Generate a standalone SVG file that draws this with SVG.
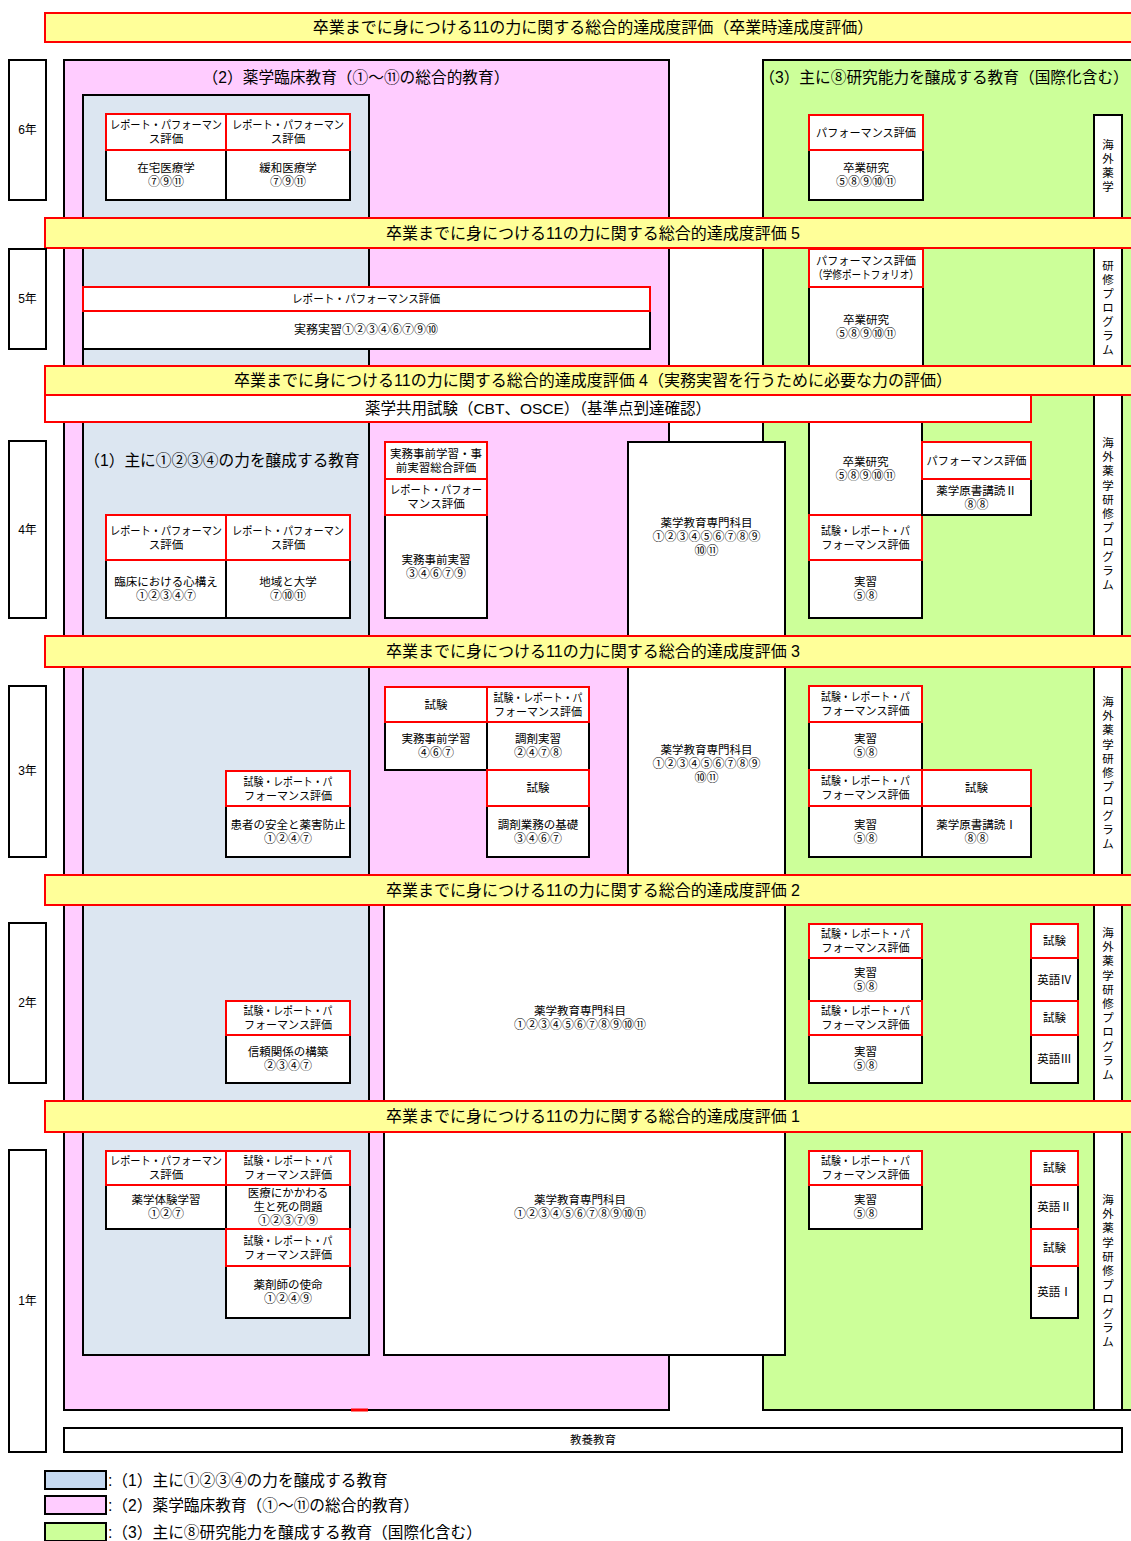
<svg xmlns="http://www.w3.org/2000/svg" width="1131" height="1541" viewBox="0 0 1131 1541">
<style>
text{font-family:"Liberation Sans","Noto Sans CJK JP",sans-serif;fill:#000;text-anchor:middle;dominant-baseline:central}
.s{font-size:11.5px}
.c{font-size:12px}
.m{font-size:12px}
.l{font-size:15.7px}
.b{font-size:16px}
.v{font-size:11.5px}
.st{text-anchor:start}
.band{fill:#FFFF99;stroke:#FF0000;stroke-width:2}
.rb{fill:#fff;stroke:#FF0000;stroke-width:2}
.wb{fill:#fff;stroke:#000;stroke-width:2}
.pink{fill:#FFCCFF;stroke:#000;stroke-width:2}
.blue{fill:#DCE6F1;stroke:#000;stroke-width:2}
.green{fill:#CCFF99;stroke:#000;stroke-width:2}
</style>
<rect width="1131" height="1541" fill="#fff"/>

<g id="region-pink"><rect class="pink" x="64" y="60" width="605" height="1350"/><text class="l" x="356" y="77">（2）薬学臨床教育（①～⑪の総合的教育）</text></g>
<g id="region-blue"><rect class="blue" x="83" y="95" width="286" height="1260"/><text class="l" x="222" y="460">（1）主に①②③④の力を醸成する教育</text></g>
<g id="region-green"><rect class="green" x="763" y="60" width="390" height="1350"/><text class="l" x="944" y="77">（3）主に⑧研究能力を醸成する教育（国際化含む）</text></g>
<line x1="351" y1="1410" x2="368" y2="1410" stroke="#FF0000" stroke-width="3"/>

<g id="senmon-y3-4"><rect class="wb" x="628" y="442" width="157" height="433"/>
<text class="s" x="706.5" y="523">薬学教育専門科目</text><text class="c" x="706.5" y="537">①②③④⑤⑥⑦⑧⑨</text><text class="c" x="706.5" y="551">⑩⑪</text>
<text class="s" x="706.5" y="750">薬学教育専門科目</text><text class="c" x="706.5" y="764">①②③④⑤⑥⑦⑧⑨</text><text class="c" x="706.5" y="778">⑩⑪</text></g>
<g id="senmon-y1-2"><rect class="wb" x="384" y="875" width="401" height="480"/>
<text class="s" x="580" y="1011">薬学教育専門科目</text><text class="c" x="580" y="1025">①②③④⑤⑥⑦⑧⑨⑩⑪</text>
<text class="s" x="580" y="1200">薬学教育専門科目</text><text class="c" x="580" y="1214">①②③④⑤⑥⑦⑧⑨⑩⑪</text></g>

<g id="overseas"><rect class="wb" x="1094" y="115" width="28" height="1295"/>
<text class="v" x="1108" y="145"><tspan x="1108" y="145">海</tspan><tspan x="1108" dy="14">外</tspan><tspan x="1108" dy="14">薬</tspan><tspan x="1108" dy="14">学</tspan></text>
<text class="v" x="1108" y="266"><tspan x="1108" y="266">研</tspan><tspan x="1108" dy="14">修</tspan><tspan x="1108" dy="14">プ</tspan><tspan x="1108" dy="14">ロ</tspan><tspan x="1108" dy="14">グ</tspan><tspan x="1108" dy="14">ラ</tspan><tspan x="1108" dy="14">ム</tspan></text>
<text class="v" x="1108" y="443"><tspan x="1108" y="443">海</tspan><tspan x="1108" dy="14.2">外</tspan><tspan x="1108" dy="14.2">薬</tspan><tspan x="1108" dy="14.2">学</tspan><tspan x="1108" dy="14.2">研</tspan><tspan x="1108" dy="14.2">修</tspan><tspan x="1108" dy="14.2">プ</tspan><tspan x="1108" dy="14.2">ロ</tspan><tspan x="1108" dy="14.2">グ</tspan><tspan x="1108" dy="14.2">ラ</tspan><tspan x="1108" dy="14.2">ム</tspan></text>
<text class="v" x="1108" y="702"><tspan x="1108" y="702">海</tspan><tspan x="1108" dy="14.2">外</tspan><tspan x="1108" dy="14.2">薬</tspan><tspan x="1108" dy="14.2">学</tspan><tspan x="1108" dy="14.2">研</tspan><tspan x="1108" dy="14.2">修</tspan><tspan x="1108" dy="14.2">プ</tspan><tspan x="1108" dy="14.2">ロ</tspan><tspan x="1108" dy="14.2">グ</tspan><tspan x="1108" dy="14.2">ラ</tspan><tspan x="1108" dy="14.2">ム</tspan></text>
<text class="v" x="1108" y="933"><tspan x="1108" y="933">海</tspan><tspan x="1108" dy="14.2">外</tspan><tspan x="1108" dy="14.2">薬</tspan><tspan x="1108" dy="14.2">学</tspan><tspan x="1108" dy="14.2">研</tspan><tspan x="1108" dy="14.2">修</tspan><tspan x="1108" dy="14.2">プ</tspan><tspan x="1108" dy="14.2">ロ</tspan><tspan x="1108" dy="14.2">グ</tspan><tspan x="1108" dy="14.2">ラ</tspan><tspan x="1108" dy="14.2">ム</tspan></text>
<text class="v" x="1108" y="1200"><tspan x="1108" y="1200">海</tspan><tspan x="1108" dy="14.2">外</tspan><tspan x="1108" dy="14.2">薬</tspan><tspan x="1108" dy="14.2">学</tspan><tspan x="1108" dy="14.2">研</tspan><tspan x="1108" dy="14.2">修</tspan><tspan x="1108" dy="14.2">プ</tspan><tspan x="1108" dy="14.2">ロ</tspan><tspan x="1108" dy="14.2">グ</tspan><tspan x="1108" dy="14.2">ラ</tspan><tspan x="1108" dy="14.2">ム</tspan></text>
</g>

<!-- 6年 -->
<g id="y6-zaitaku"><rect class="wb" x="106" y="150" width="120" height="50"/><rect class="rb" x="106" y="114" width="120" height="36"/>
<text class="s" x="166" y="125" textLength="112" lengthAdjust="spacingAndGlyphs">レポート・パフォーマン</text><text class="s" x="166" y="139">ス評価</text><text class="s" x="166" y="168">在宅医療学</text><text class="c" x="166" y="182">⑦⑨⑪</text></g>
<g id="y6-kanwa"><rect class="wb" x="226" y="150" width="124" height="50"/><rect class="rb" x="226" y="114" width="124" height="36"/>
<text class="s" x="288" y="125" textLength="112" lengthAdjust="spacingAndGlyphs">レポート・パフォーマン</text><text class="s" x="288" y="139">ス評価</text><text class="s" x="288" y="168">緩和医療学</text><text class="c" x="288" y="182">⑦⑨⑪</text></g>
<g id="y6-sotsuken"><rect class="wb" x="809" y="150" width="114" height="50"/><rect class="rb" x="809" y="115" width="114" height="35"/>
<text class="s" x="866" y="132.5" textLength="100" lengthAdjust="spacingAndGlyphs">パフォーマンス評価</text><text class="s" x="866" y="168">卒業研究</text><text class="c" x="866" y="182">⑤⑧⑨⑩⑪</text></g>

<!-- 5年 -->
<g id="y5-jitsumu"><rect class="wb" x="83" y="311" width="567" height="38"/><rect class="rb" x="83" y="287" width="567" height="24"/>
<text class="s" x="366" y="299" textLength="148" lengthAdjust="spacingAndGlyphs">レポート・パフォーマンス評価</text><text class="c" x="366" y="330">実務実習①②③④⑥⑦⑨⑩</text></g>
<g id="y5-sotsuken"><rect class="wb" x="809" y="287" width="114" height="79"/><rect class="rb" x="809" y="249" width="114" height="38"/>
<text class="s" x="866" y="261" textLength="100" lengthAdjust="spacingAndGlyphs">パフォーマンス評価</text><text class="s" x="866" y="275" textLength="106" lengthAdjust="spacingAndGlyphs">（学修ポートフォリオ）</text><text class="s" x="866" y="319.5">卒業研究</text><text class="c" x="866" y="333.5">⑤⑧⑨⑩⑪</text></g>

<!-- 4年 -->
<g id="y4-kokoro"><rect class="wb" x="106" y="560" width="120" height="58"/><rect class="rb" x="106" y="515" width="120" height="45"/>
<text class="s" x="166" y="530.5" textLength="112" lengthAdjust="spacingAndGlyphs">レポート・パフォーマン</text><text class="s" x="166" y="544.5">ス評価</text><text class="s" x="166" y="582">臨床における心構え</text><text class="c" x="166" y="596">①②③④⑦</text></g>
<g id="y4-chiiki"><rect class="wb" x="226" y="560" width="124" height="58"/><rect class="rb" x="226" y="515" width="124" height="45"/>
<text class="s" x="288" y="530.5" textLength="112" lengthAdjust="spacingAndGlyphs">レポート・パフォーマン</text><text class="s" x="288" y="544.5">ス評価</text><text class="s" x="288" y="582">地域と大学</text><text class="c" x="288" y="596">⑦⑩⑪</text></g>
<g id="y4-jizen"><rect class="wb" x="385" y="515" width="102" height="103"/><rect class="rb" x="385" y="442" width="102" height="37"/><rect class="rb" x="385" y="479" width="102" height="36"/>
<text class="s" x="436" y="453.5">実務事前学習・事</text><text class="s" x="436" y="467.5">前実習総合評価</text><text class="s" x="436" y="490" textLength="92" lengthAdjust="spacingAndGlyphs">レポート・パフォー</text><text class="s" x="436" y="504">マンス評価</text>
<text class="s" x="436" y="560">実務事前実習</text><text class="c" x="436" y="574">③④⑥⑦⑨</text></g>
<g id="y4-sotsuken"><rect class="wb" x="809" y="422" width="113" height="93"/><text class="s" x="865.5" y="462">卒業研究</text><text class="c" x="865.5" y="476">⑤⑧⑨⑩⑪</text></g>
<g id="y4-jisshu"><rect class="wb" x="809" y="560" width="113" height="58"/><rect class="rb" x="809" y="515" width="113" height="45"/>
<text class="s" x="865.5" y="530.5" textLength="89" lengthAdjust="spacingAndGlyphs">試験・レポート・パ</text><text class="s" x="865.5" y="544.5" textLength="88" lengthAdjust="spacingAndGlyphs">フォーマンス評価</text><text class="s" x="865.5" y="582">実習</text><text class="c" x="865.5" y="596">⑤⑧</text></g>
<g id="y4-genshoII"><rect class="wb" x="922" y="479" width="109" height="36"/><rect class="rb" x="922" y="442" width="109" height="37"/>
<text class="s" x="976.5" y="460.5" textLength="100" lengthAdjust="spacingAndGlyphs">パフォーマンス評価</text><text class="s" x="976.5" y="490.5">薬学原書講読Ⅱ</text><text class="c" x="976.5" y="504.5">⑧⑧</text></g>

<!-- 3年 -->
<g id="y3-anzen"><rect class="wb" x="226" y="806" width="124" height="51"/><rect class="rb" x="226" y="771" width="124" height="35"/>
<text class="s" x="288" y="781.5" textLength="89" lengthAdjust="spacingAndGlyphs">試験・レポート・パ</text><text class="s" x="288" y="795.5" textLength="88" lengthAdjust="spacingAndGlyphs">フォーマンス評価</text><text class="s" x="288" y="824.5">患者の安全と薬害防止</text><text class="c" x="288" y="838.5">①②④⑦</text></g>
<g id="y3-jizen"><rect class="wb" x="385" y="722" width="102" height="48"/><rect class="rb" x="385" y="687" width="102" height="35"/>
<text class="s" x="436" y="704.5">試験</text><text class="s" x="436" y="739">実務事前学習</text><text class="c" x="436" y="753">④⑥⑦</text></g>
<g id="y3-chozai"><rect class="wb" x="487" y="722" width="102" height="48"/><rect class="rb" x="487" y="687" width="102" height="35"/>
<text class="s" x="538" y="697.5" textLength="89" lengthAdjust="spacingAndGlyphs">試験・レポート・パ</text><text class="s" x="538" y="711.5" textLength="88" lengthAdjust="spacingAndGlyphs">フォーマンス評価</text><text class="s" x="538" y="739">調剤実習</text><text class="c" x="538" y="753">②④⑦⑧</text></g>
<g id="y3-kiso"><rect class="wb" x="487" y="806" width="102" height="51"/><rect class="rb" x="487" y="770" width="102" height="36"/>
<text class="s" x="538" y="788">試験</text><text class="s" x="538" y="824.5">調剤業務の基礎</text><text class="c" x="538" y="838.5">③④⑥⑦</text></g>
<g id="y3-jisshu1"><rect class="wb" x="809" y="722" width="113" height="48"/><rect class="rb" x="809" y="686" width="113" height="36"/>
<text class="s" x="865.5" y="697" textLength="89" lengthAdjust="spacingAndGlyphs">試験・レポート・パ</text><text class="s" x="865.5" y="711" textLength="88" lengthAdjust="spacingAndGlyphs">フォーマンス評価</text><text class="s" x="865.5" y="739">実習</text><text class="c" x="865.5" y="753">⑤⑧</text></g>
<g id="y3-jisshu2"><rect class="wb" x="809" y="806" width="113" height="51"/><rect class="rb" x="809" y="770" width="113" height="36"/>
<text class="s" x="865.5" y="781" textLength="89" lengthAdjust="spacingAndGlyphs">試験・レポート・パ</text><text class="s" x="865.5" y="795" textLength="88" lengthAdjust="spacingAndGlyphs">フォーマンス評価</text><text class="s" x="865.5" y="824.5">実習</text><text class="c" x="865.5" y="838.5">⑤⑧</text></g>
<g id="y3-genshoI"><rect class="wb" x="922" y="806" width="109" height="51"/><rect class="rb" x="922" y="770" width="109" height="36"/>
<text class="s" x="976.5" y="788">試験</text><text class="s" x="976.5" y="824.5">薬学原書講読Ⅰ</text><text class="c" x="976.5" y="838.5">⑧⑧</text></g>

<!-- 2年 -->
<g id="y2-shinrai"><rect class="wb" x="226" y="1035" width="124" height="48"/><rect class="rb" x="226" y="1001" width="124" height="34"/>
<text class="s" x="288" y="1011" textLength="89" lengthAdjust="spacingAndGlyphs">試験・レポート・パ</text><text class="s" x="288" y="1025" textLength="88" lengthAdjust="spacingAndGlyphs">フォーマンス評価</text><text class="s" x="288" y="1052">信頼関係の構築</text><text class="c" x="288" y="1066">②③④⑦</text></g>
<g id="y2-jisshu1"><rect class="wb" x="809" y="958" width="113" height="43"/><rect class="rb" x="809" y="924" width="113" height="34"/>
<text class="s" x="865.5" y="934" textLength="89" lengthAdjust="spacingAndGlyphs">試験・レポート・パ</text><text class="s" x="865.5" y="948" textLength="88" lengthAdjust="spacingAndGlyphs">フォーマンス評価</text><text class="s" x="865.5" y="972.5">実習</text><text class="c" x="865.5" y="986.5">⑤⑧</text></g>
<g id="y2-jisshu2"><rect class="wb" x="809" y="1035" width="113" height="48"/><rect class="rb" x="809" y="1001" width="113" height="34"/>
<text class="s" x="865.5" y="1011" textLength="89" lengthAdjust="spacingAndGlyphs">試験・レポート・パ</text><text class="s" x="865.5" y="1025" textLength="88" lengthAdjust="spacingAndGlyphs">フォーマンス評価</text><text class="s" x="865.5" y="1052">実習</text><text class="c" x="865.5" y="1066">⑤⑧</text></g>
<g id="y2-eigoIV"><rect class="wb" x="1031" y="958" width="47" height="43"/><rect class="rb" x="1031" y="924" width="47" height="34"/>
<text class="s" x="1054.5" y="941">試験</text><text class="s" x="1054.5" y="979.5">英語Ⅳ</text></g>
<g id="y2-eigoIII"><rect class="wb" x="1031" y="1035" width="47" height="48"/><rect class="rb" x="1031" y="1001" width="47" height="34"/>
<text class="s" x="1054.5" y="1018">試験</text><text class="s" x="1054.5" y="1059">英語Ⅲ</text></g>

<!-- 1年 -->
<g id="y1-taiken"><rect class="wb" x="106" y="1185" width="120" height="44"/><rect class="rb" x="106" y="1151" width="120" height="34"/>
<text class="s" x="166" y="1161" textLength="112" lengthAdjust="spacingAndGlyphs">レポート・パフォーマン</text><text class="s" x="166" y="1175">ス評価</text><text class="s" x="166" y="1200">薬学体験学習</text><text class="c" x="166" y="1214">①②⑦</text></g>
<g id="y1-seishi"><rect class="wb" x="226" y="1185" width="124" height="44"/><rect class="rb" x="226" y="1151" width="124" height="34"/>
<text class="s" x="288" y="1161" textLength="89" lengthAdjust="spacingAndGlyphs">試験・レポート・パ</text><text class="s" x="288" y="1175" textLength="88" lengthAdjust="spacingAndGlyphs">フォーマンス評価</text><text class="s" x="288" y="1193">医療にかかわる</text><text class="s" x="288" y="1207">生と死の問題</text><text class="c" x="288" y="1221">①②③⑦⑨</text></g>
<g id="y1-shimei"><rect class="wb" x="226" y="1266" width="124" height="52"/><rect class="rb" x="226" y="1229" width="124" height="37"/>
<text class="s" x="288" y="1240.5" textLength="89" lengthAdjust="spacingAndGlyphs">試験・レポート・パ</text><text class="s" x="288" y="1254.5" textLength="88" lengthAdjust="spacingAndGlyphs">フォーマンス評価</text><text class="s" x="288" y="1285">薬剤師の使命</text><text class="c" x="288" y="1299">①②④⑨</text></g>
<g id="y1-jisshu"><rect class="wb" x="809" y="1185" width="113" height="44"/><rect class="rb" x="809" y="1151" width="113" height="34"/>
<text class="s" x="865.5" y="1161" textLength="89" lengthAdjust="spacingAndGlyphs">試験・レポート・パ</text><text class="s" x="865.5" y="1175" textLength="88" lengthAdjust="spacingAndGlyphs">フォーマンス評価</text><text class="s" x="865.5" y="1200">実習</text><text class="c" x="865.5" y="1214">⑤⑧</text></g>
<g id="y1-eigoII"><rect class="wb" x="1031" y="1185" width="47" height="44"/><rect class="rb" x="1031" y="1151" width="47" height="34"/>
<text class="s" x="1054.5" y="1168">試験</text><text class="s" x="1054.5" y="1207">英語Ⅱ</text></g>
<g id="y1-eigoI"><rect class="wb" x="1031" y="1266" width="47" height="52"/><rect class="rb" x="1031" y="1229" width="47" height="37"/>
<text class="s" x="1054.5" y="1247.5">試験</text><text class="s" x="1054.5" y="1292">英語Ⅰ</text></g>

<!-- bands -->
<g id="band-top"><rect class="band" x="45" y="13" width="1100" height="29"/><text class="b" x="593" y="27.5">卒業までに身につける11の力に関する総合的達成度評価（卒業時達成度評価）</text></g>
<g id="band-5"><rect class="band" x="45" y="218" width="1100" height="30"/><text class="b" x="593" y="233">卒業までに身につける11の力に関する総合的達成度評価 5</text></g>
<g id="band-4"><rect class="band" x="45" y="366" width="1100" height="29"/><text class="b" x="593" y="380.5">卒業までに身につける11の力に関する総合的達成度評価 4（実務実習を行うために必要な力の評価）</text></g>
<g id="kyoyo-shiken"><rect class="rb" x="45" y="395" width="986" height="27"/><text class="l" x="538" y="408.5" style="font-size:15.5px">薬学共用試験（CBT、OSCE）（基準点到達確認）</text></g>
<g id="band-3"><rect class="band" x="45" y="636" width="1100" height="31"/><text class="b" x="593" y="651.5">卒業までに身につける11の力に関する総合的達成度評価 3</text></g>
<g id="band-2"><rect class="band" x="45" y="875" width="1100" height="30"/><text class="b" x="593" y="890">卒業までに身につける11の力に関する総合的達成度評価 2</text></g>
<g id="band-1"><rect class="band" x="45" y="1101" width="1100" height="31"/><text class="b" x="593" y="1116">卒業までに身につける11の力に関する総合的達成度評価 1</text></g>

<!-- years -->
<g id="year-6"><rect class="wb" x="9" y="60" width="37" height="140"/><text class="m" x="27.5" y="130">6年</text></g>
<g id="year-5"><rect class="wb" x="9" y="249" width="37" height="100"/><text class="m" x="27.5" y="299">5年</text></g>
<g id="year-4"><rect class="wb" x="9" y="441" width="37" height="177"/><text class="m" x="27.5" y="530">4年</text></g>
<g id="year-3"><rect class="wb" x="9" y="686" width="37" height="171"/><text class="m" x="27.5" y="771">3年</text></g>
<g id="year-2"><rect class="wb" x="9" y="923" width="37" height="160"/><text class="m" x="27.5" y="1003">2年</text></g>
<g id="year-1"><rect class="wb" x="9" y="1150" width="37" height="302"/><text class="m" x="27.5" y="1301">1年</text></g>

<g id="kyoyo-kyoiku"><rect class="wb" x="64" y="1428" width="1058" height="24"/><text class="s" x="593" y="1440">教養教育</text></g>

<g id="legend">
<g id="legend-1"><rect x="45" y="1471" width="61" height="18" fill="#C5D9F1" stroke="#000" stroke-width="2"/><text class="l st" x="108" y="1480.5">:（1）主に①②③④の力を醸成する教育</text></g>
<g id="legend-2"><rect x="45" y="1496" width="61" height="18" fill="#FFCCFF" stroke="#000" stroke-width="2"/><text class="l st" x="108" y="1505.5">:（2）薬学臨床教育（①～⑪の総合的教育）</text></g>
<g id="legend-3"><rect x="45" y="1523" width="61" height="18" fill="#CCFF99" stroke="#000" stroke-width="2"/><text class="l st" x="108" y="1532.5">:（3）主に⑧研究能力を醸成する教育（国際化含む）</text></g>
</g>
<g id="connectors"/>
</svg>
